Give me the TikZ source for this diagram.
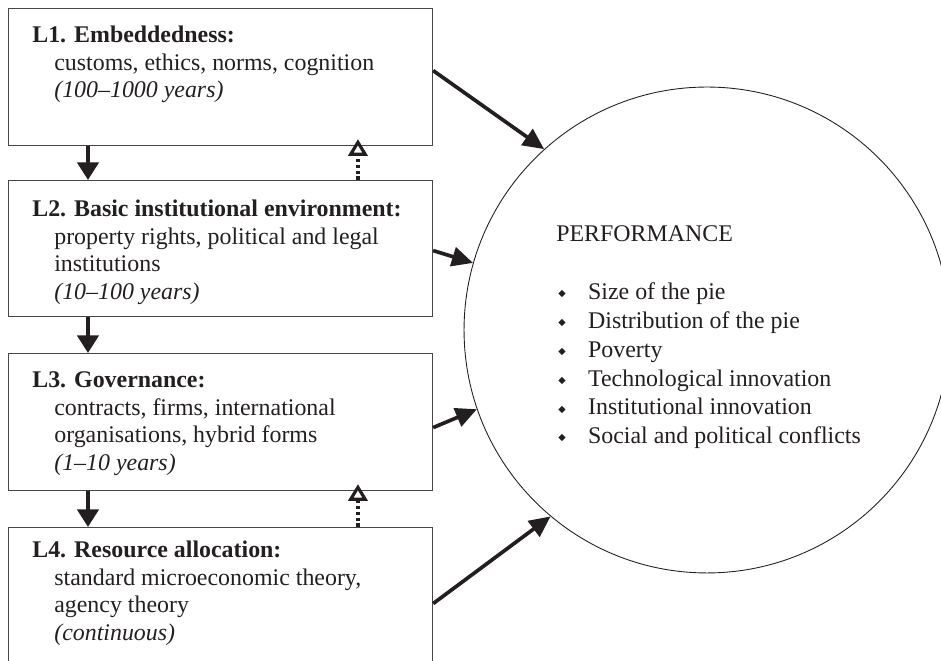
\documentclass[tikz,border=0pt]{standalone}
\usepackage{fontspec}
\setmainfont{Liberation Serif}
\newfontfamily\symfont{DejaVu Sans}
\usetikzlibrary{arrows.meta}

\definecolor{ink}{RGB}{35,31,32}
\definecolor{rule}{RGB}{70,70,70}

\newcommand{\lvlfont}{\fontsize{13.6pt}{15.6pt}\selectfont}
\newcommand{\perffont}{\fontsize{13.6pt}{16.4pt}\selectfont}
\newcommand{\ind}{\hspace*{12.5pt}}
\newcommand{\dia}{\makebox[18.1pt][l]{\hspace*{1.1pt}{\symfont\fontsize{5.5pt}{6pt}\selectfont\raisebox{1.6pt}{◆}}}}

\begin{document}
\begin{tikzpicture}[x=0.02cm, y=-0.02cm,
  level/.style={draw=rule, line width=0.7pt, rectangle, anchor=north west,
    minimum width=8.48cm, inner sep=0pt},
  lvltext/.style={anchor=base west, inner sep=0pt, text=ink, font=\lvlfont},
  down/.style={draw=ink, line width=2.3pt, -{Triangle[length=10pt, width=12pt]}},
  feedback/.style={draw=ink, line width=1.9pt, dash pattern=on 2pt off 1.4pt,
    shorten >=-0.14cm,
    -{Triangle[open, length=9.5pt, width=11pt, line width=1.8pt, fill=white]}},
  impact/.style={draw=ink, line width=2.1pt, -{Triangle[length=12pt, width=11pt]}}]

\useasboundingbox (0,0) rectangle (941,661);
\clip (0,0) rectangle (941,661);

% the four levels of social analysis
\node[level, minimum height=2.74cm] (L1) at (8,8) {};
\node[level, minimum height=2.72cm] (L2) at (8,180) {};
\node[level, minimum height=2.74cm] (L3) at (8,353) {};
\node[level, minimum height=3.46cm] (L4) at (8,527) {};

\node[lvltext] (L1t) at (32,43) {\begin{tabular}[t]{@{}l@{}}
  \textbf{L1. Embeddedness:}\\
  \ind customs, ethics, norms, cognition\\
  \ind\textit{(100–1000 years)}
\end{tabular}};
\node[lvltext] (L2t) at (32,217) {\begin{tabular}[t]{@{}l@{}}
  \textbf{L2. Basic institutional environment:}\\
  \ind property rights, political and legal\\
  \ind institutions\\
  \ind\textit{(10–100 years)}
\end{tabular}};
\node[lvltext] (L3t) at (32,388) {\begin{tabular}[t]{@{}l@{}}
  \textbf{L3. Governance:}\\
  \ind contracts, firms, international\\
  \ind organisations, hybrid forms\\
  \ind\textit{(1–10 years)}
\end{tabular}};
\node[lvltext] (L4t) at (32,558) {\begin{tabular}[t]{@{}l@{}}
  \textbf{L4. Resource allocation:}\\
  \ind standard microeconomic theory,\\
  \ind agency theory\\
  \ind\textit{(continuous)}
\end{tabular}};

% performance circle
\node[circle, draw=ink, line width=0.5pt, minimum size=9.72cm, inner sep=0pt] (perf) at (707,330) {};
\node[anchor=base west, inner sep=0pt, text=ink, font=\perffont] (perft) at (556,242) {\begin{tabular}[t]{@{}l@{}}
  PERFORMANCE\\
  \\
  \dia Size of the pie\\
  \dia Distribution of the pie\\
  \dia Poverty\\
  \dia Technological innovation\\
  \dia Institutional innovation\\
  \dia Social and political conflicts
\end{tabular}};

% constraints flowing downwards
\draw[down] ([xshift=1.6cm]L1.south west) -- ([xshift=1.6cm]L2.north west);
\draw[down] ([xshift=1.6cm]L2.south west) -- ([xshift=1.6cm]L3.north west);
\draw[down] ([xshift=1.6cm]L3.south west) -- ([xshift=1.6cm]L4.north west);

% feedback flowing upwards
\draw[feedback] ([xshift=7cm]L2.north west) -- ([xshift=7cm]L1.south west);
\draw[feedback] ([xshift=7cm]L4.north west) -- ([xshift=7cm]L3.south west);

% every level shapes performance
\draw[impact] ([yshift=0.13cm]L1.east) -- (perf.132.3);
\draw[impact] ([yshift=-0.04cm]L2.east) -- (perf.164.9);
\draw[impact] ([yshift=-0.11cm]L3.east) -- (perf.199.2);
\draw[impact] ([yshift=0.21cm]L4.east) -- (perf.230.1);
\end{tikzpicture}
\end{document}
